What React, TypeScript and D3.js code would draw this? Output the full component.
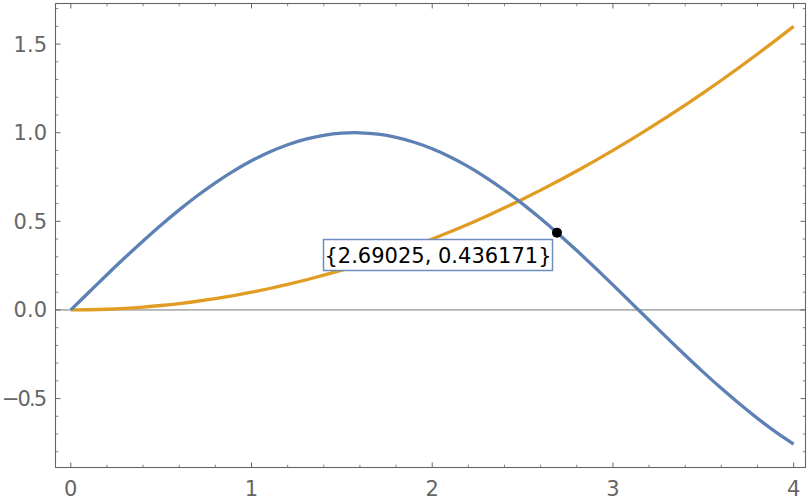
import React from "react";
import * as d3 from "d3";

const xs = [0,0.1,0.2,0.3,0.4,0.5,0.6,0.7,0.8,0.9,1.0,1.1,1.2,1.3,1.4,1.5,1.6,1.7,1.8,1.9,2.0,2.1,2.2,2.3,2.4,2.5,2.6,2.7,2.8,2.9,3.0,3.1,3.2,3.3,3.4,3.5,3.6,3.7,3.8,3.9,4.0];
const blueY = [0,0.0998,0.1987,0.2955,0.3894,0.4794,0.5646,0.6442,0.7174,0.7833,0.8415,0.8912,0.932,0.9636,0.9854,0.9975,0.9996,0.9917,0.9738,0.9463,0.9093,0.8632,0.8085,0.7457,0.6755,0.5985,0.5155,0.4274,0.335,0.2392,0.1411,0.0416,-0.0584,-0.1577,-0.2555,-0.3508,-0.4425,-0.5298,-0.6119,-0.6878,-0.7568];
const orangeY = [0,0.001,0.004,0.009,0.016,0.025,0.036,0.049,0.064,0.081,0.1,0.121,0.144,0.169,0.196,0.225,0.256,0.289,0.324,0.361,0.4,0.441,0.484,0.529,0.576,0.625,0.676,0.729,0.784,0.841,0.9,0.961,1.024,1.089,1.156,1.225,1.296,1.369,1.444,1.521,1.6];
const xTicks = [0,1,2,3,4];
const yTicks = [-0.5,0,0.5,1.0,1.5];
const yTickLabels = ["\u22120.5","0.0","0.5","1.0","1.5"];
const pointX = 2.69025;
const pointY = 0.436171;
const pointLabel = "{2.69025, 0.436171}";

export default function App() {
  const W = 810, H = 504;
  const L = 55.5, R = 805.5, T = 3.5, B = 467.5;
  const x = d3.scaleLinear().domain([-0.0847, 4.0657]).range([L, R]);
  const y = d3.scaleLinear().domain([-0.889, 1.729]).range([B, T]);
  const line = d3.line<number>().x((_, i) => x(xs[i])).y(d => y(d)).curve(d3.curveCatmullRom);
  const minorX = d3.range(0, 4.05, 0.2).filter(v => Math.abs(v - Math.round(v)) > 1e-6);
  const minorY = d3.range(-0.8, 1.75, 0.1).map(v => Math.round(v * 10) / 10).filter(v => Math.abs(v * 2 - Math.round(v * 2)) > 1e-6);
  const frameColor = "#666";
  const font = "DejaVu Sans, sans-serif";
  const px = x(pointX), py = y(pointY);
  return (
    <svg width={W} height={H} style={{ position: "absolute", left: 0, top: 0, background: "#fff" }}>
      <line x1={L} x2={R} y1={y(0)} y2={y(0)} stroke="#666" strokeWidth={0.9} />
      <path d={line(orangeY) || ""} fill="none" stroke="#E19C24" strokeWidth={3.3} />
      <path d={line(blueY) || ""} fill="none" stroke="#5E81B5" strokeWidth={3.3} />
      <rect x={L} y={T} width={R - L} height={B - T} fill="none" stroke={frameColor} strokeWidth={1.1} />
      {xTicks.map(v => (
        <g key={"xt" + v}>
          <line x1={x(v)} x2={x(v)} y1={B} y2={B - 5} stroke={frameColor} strokeWidth={1} />
          <line x1={x(v)} x2={x(v)} y1={T} y2={T + 5} stroke={frameColor} strokeWidth={1} />
          <text x={x(v)} y={496} textAnchor="middle" fontFamily={font} fontSize={21} fill="#666">{v}</text>
        </g>
      ))}
      {minorX.map(v => (
        <g key={"xm" + v}>
          <line x1={x(v)} x2={x(v)} y1={B} y2={B - 2.8} stroke={frameColor} strokeWidth={0.8} />
          <line x1={x(v)} x2={x(v)} y1={T} y2={T + 2.8} stroke={frameColor} strokeWidth={0.8} />
        </g>
      ))}
      {yTicks.map((v, i) => (
        <g key={"yt" + v}>
          <line x1={L} x2={L + 5} y1={y(v)} y2={y(v)} stroke={frameColor} strokeWidth={1} />
          <line x1={R} x2={R - 5} y1={y(v)} y2={y(v)} stroke={frameColor} strokeWidth={1} />
          {v < 0 ? (
            <text x={2} y={y(v)} dy="0.36em" textAnchor="start" textLength={45} lengthAdjust="spacing" fontFamily={font} fontSize={21} fill="#666">{yTickLabels[i]}</text>
          ) : (
            <text x={47} y={y(v)} dy="0.36em" textAnchor="end" fontFamily={font} fontSize={21} fill="#666">{yTickLabels[i]}</text>
          )}
        </g>
      ))}
      {minorY.map(v => (
        <g key={"ym" + v}>
          <line x1={L} x2={L + 2.8} y1={y(v)} y2={y(v)} stroke={frameColor} strokeWidth={0.8} />
          <line x1={R} x2={R - 2.8} y1={y(v)} y2={y(v)} stroke={frameColor} strokeWidth={0.8} />
        </g>
      ))}
      <circle cx={px} cy={py} r={5} fill="#000" />
      <rect x={323.5} y={239.5} width={229} height={31} fill="#fff" stroke="#6d8cc0" strokeWidth={1.5} />
      <text x={438} y={255} dy="0.36em" textAnchor="middle" fontFamily={font} fontSize={21} fill="#000">{pointLabel}</text>
    </svg>
  );
}
